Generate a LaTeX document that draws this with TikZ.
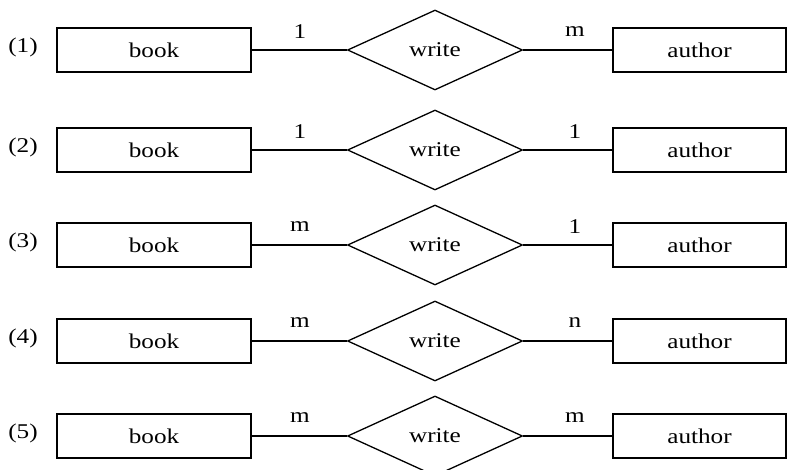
\documentclass[tikz,border=0pt]{standalone}
\usepackage{fontspec}
\setmainfont{Liberation Serif}[FakeStretch=1.2]
\usetikzlibrary{shapes.geometric}
\begin{document}
\begin{tikzpicture}[x=1pt,y=-1pt,
  every node/.style={font=\fontsize{21}{24}\selectfont},
  entity/.style={draw, line width=1.4pt, rectangle, minimum height=44pt, inner sep=0pt},
  rel/.style={draw, line width=1.3pt, diamond, minimum width=175pt, minimum height=80pt, inner sep=0pt},
  conn/.style={line width=1.4pt},
  card/.style={inner sep=1pt}]
\useasboundingbox (0,0) rectangle (789,470);
\foreach \i/\y/\a/\b in {1/50/1/m, 2/150/1/1, 3/245/m/1, 4/341/m/n, 5/436/m/m}{
  \node (n\i) at (23,\y-3) {(\i)};
  \node[entity, minimum width=194pt] (b\i) at (154,\y) {book};
  \node[rel] (w\i) at (435,\y) {write};
  \node[entity, minimum width=173pt] (a\i) at (699.5,\y) {author};
  \draw[conn] (b\i.east) -- (w\i.west);
  \draw[conn] (w\i.east) -- (a\i.west);
  \node[card] (l\i) at (300,\y-18) {\a};
  \node[card] (r\i) at (575,\y-18) {\b};
}
\end{tikzpicture}
\end{document}
